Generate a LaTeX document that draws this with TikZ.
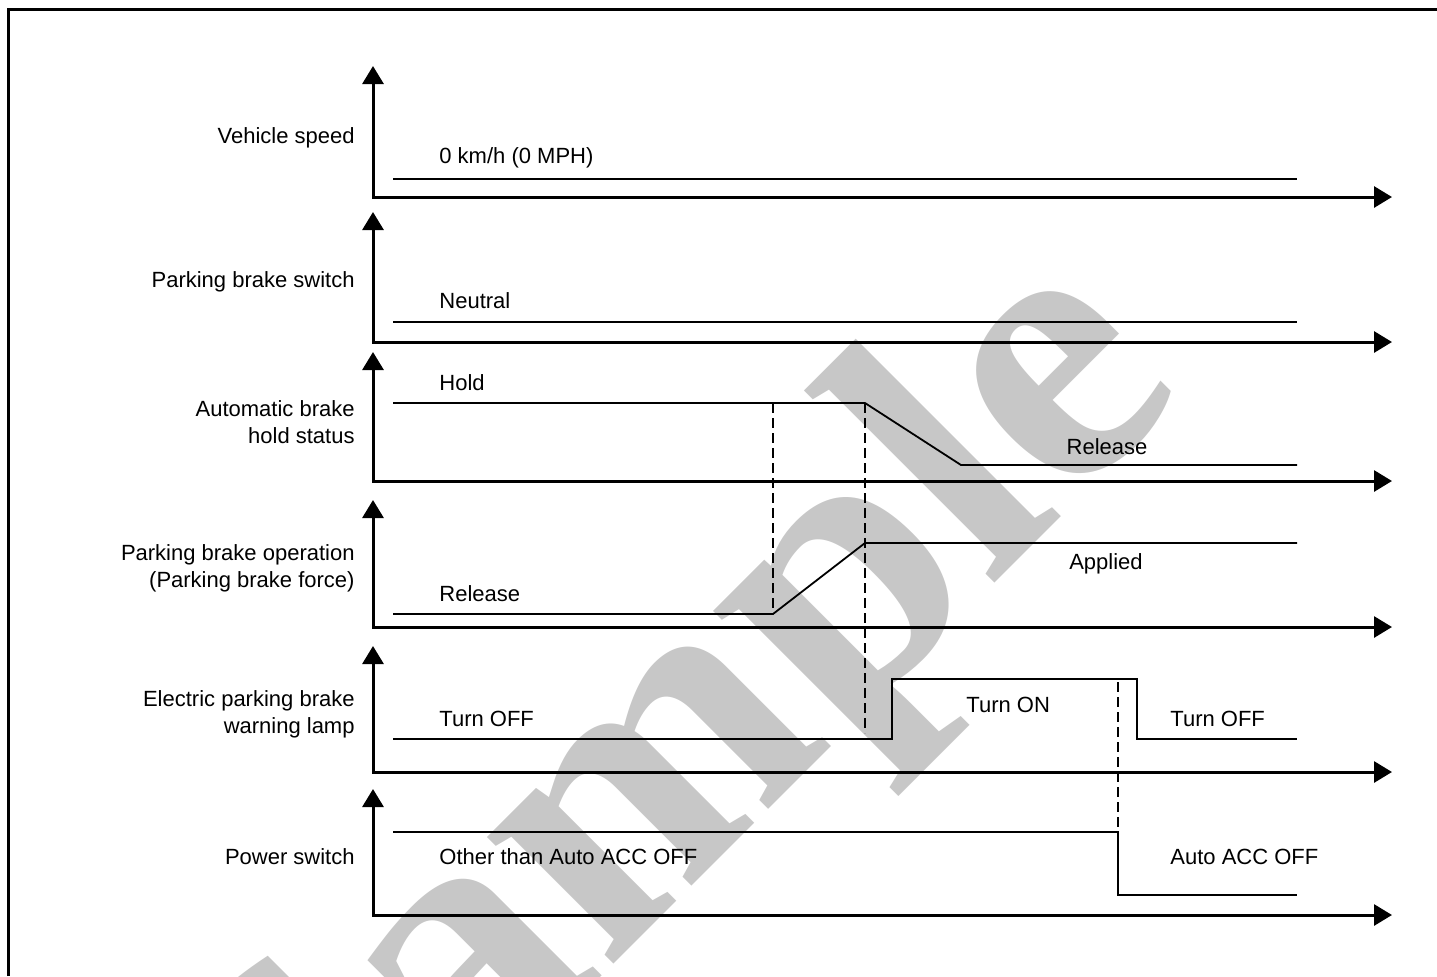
\documentclass[tikz,border=0pt]{standalone}
\usepackage{fontspec}
\setmainfont{Liberation Sans}
\newfontfamily\markfont{Liberation Serif}
\usetikzlibrary{arrows.meta,positioning}

\tikzset{
  axis/.style={line width=1.5pt,
    {Triangle[length=9pt,width=10.5pt]}-{Triangle[length=9pt,width=10.5pt]}},
  signal/.style={line width=0.9pt},
  marker/.style={line width=0.9pt, dash pattern=on 5pt off 2.5pt},
  lbl/.style={inner sep=0pt, anchor=east, align=right,
    font=\fontsize{11}{13.5}\selectfont},
  val/.style={inner sep=0pt, anchor=west,
    font=\fontsize{11}{13.5}\selectfont},
}

\begin{document}
\begin{tikzpicture}[x=0.5pt, y=-0.5pt]
\useasboundingbox (0, 0) rectangle (1437, 976);
\clip (0, 0) rectangle (1437, 976);

% watermark
\node[rotate=45, anchor=base, inner sep=0pt, text=black!22,
  font=\markfont\bfseries\fontsize{195}{195}\selectfont] (mark) at (752, 826) {Sample};

% frame
\draw[line width=1.5pt] (8, 976) -- (8, 9) -- (1437, 9);

% axes
\draw[axis] (373, 66) -- (373, 197) -- (1392, 197);
\draw[axis] (373, 212) -- (373, 342) -- (1392, 342);
\draw[axis] (373, 352) -- (373, 481) -- (1392, 481);
\draw[axis] (373, 500) -- (373, 627) -- (1392, 627);
\draw[axis] (373, 646) -- (373, 772) -- (1392, 772);
\draw[axis] (373, 789) -- (373, 915) -- (1392, 915);

% timing marks
\draw[marker] (773, 403) -- (773, 614);
\draw[marker] (865, 403) -- (865, 733);
\draw[marker] (1118, 682) -- (1118, 832);

% signals
\draw[signal] (393, 179) -- (1297, 179);
\draw[signal] (393, 322) -- (1297, 322);
\draw[signal] (393, 403) -- (865, 403) -- (961, 465) -- (1297, 465);
\draw[signal] (393, 614) -- (773, 614) -- (865, 543) -- (1297, 543);
\draw[signal] (393, 739) -- (892, 739) -- (892, 679) -- (1137, 679) -- (1137, 739) -- (1297, 739);
\draw[signal] (393, 832) -- (1118, 832) -- (1118, 895) -- (1297, 895);

% row labels
\node[lbl] (lspeed) at (355, 138) {Vehicle speed};
\node[lbl] (lswitch) at (355, 282) {Parking brake switch};
\node[lbl] (lhold) at (355, 422) {Automatic brake\\hold status};
\node[lbl] (loper) at (355, 568) {Parking brake operation\\(Parking brake force)};
\node[lbl] (llamp) at (355, 714) {Electric parking brake\\warning lamp};
\node[lbl] (lpower) at (355, 857) {Power switch};

% states
\node[val] (vzero) at (439, 158) {0 km/h (0 MPH)};
\node[val] (vneutral) at (439, 301) {Neutral};
\node[val] (vhold) at (439, 383) {Hold};
\node[val, anchor=center] (vrelease) at (1107, 447) {Release};
\node[val] (vfree) at (439, 594) {Release};
\node[val, anchor=center] (vapplied) at (1106, 564) {Applied};
\node[val] (voffa) at (439, 719) {Turn OFF};
\node[val] (von) at (966, 705) {Turn ON};
\node[val] (voffb) at (1170, 719) {Turn OFF};
\node[val] (vother) at (439, 857) {Other than Auto ACC OFF};
\node[val] (vacc) at (1170, 857) {Auto ACC OFF};
\end{tikzpicture}
\end{document}
